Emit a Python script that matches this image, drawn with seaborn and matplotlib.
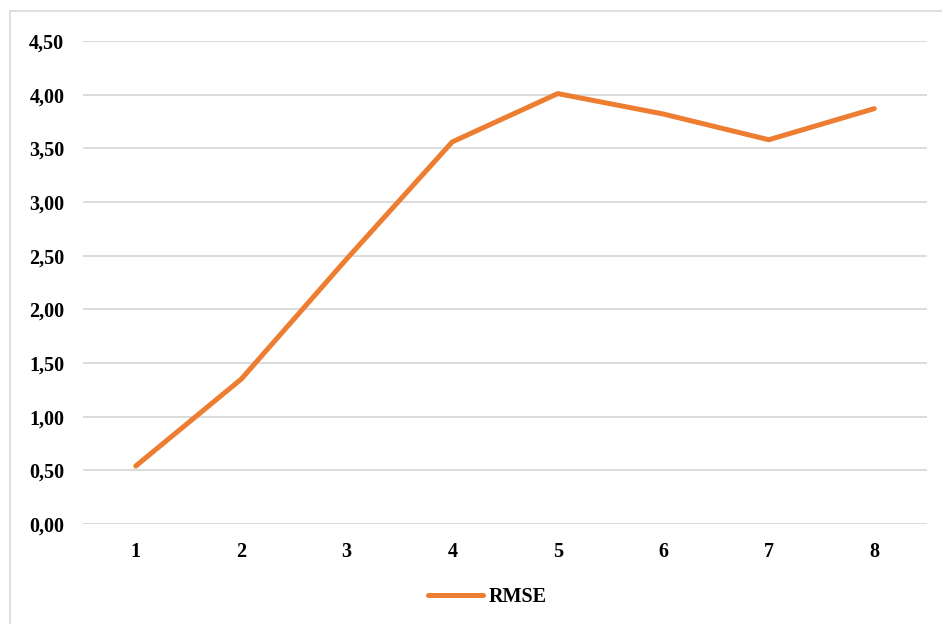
import numpy as np
import pandas as pd
import seaborn as sns
import matplotlib.pyplot as plt
from matplotlib.patches import Rectangle

# data
steps = [1, 2, 3, 4, 5, 6, 7, 8]
rmse = [0.54, 1.35, 2.47, 3.56, 4.01, 3.82, 3.58, 3.87]
y_ticks = [0.0, 0.5, 1.0, 1.5, 2.0, 2.5, 3.0, 3.5, 4.0, 4.5]

df = pd.DataFrame({'step': steps, 'RMSE': rmse})

sns.set_style('white')
plt.rcParams['font.family'] = ['Liberation Serif', 'DejaVu Serif']
plt.rcParams['font.weight'] = 'bold'
plt.rcParams['text.color'] = 'black'
plt.rcParams['xtick.color'] = 'black'
plt.rcParams['ytick.color'] = 'black'

fig = plt.figure(figsize=(9.42, 6.24), dpi=100)
ax = fig.add_axes([83 / 942, 1 - 524 / 624, (927 - 83) / 942, (524 - 41) / 624])

sns.lineplot(data=df, x='step', y='RMSE', ax=ax, color='#ED7D31', linewidth=3.6,
             solid_capstyle='round', solid_joinstyle='round', label='RMSE', legend=False)

ax.set_xlim(0.5, 8.5)
ax.set_ylim(0, 4.5)
ax.set_xticks(steps)
ax.set_xticklabels([str(s) for s in steps], fontsize=14.5, fontweight='bold', color='black')
ax.set_yticks(y_ticks)
ax.set_yticklabels([f'{v:.2f}'.replace('.', ',') for v in y_ticks], fontsize=14.5,
                   fontweight='bold', color='black')
ax.tick_params(axis='y', length=0, pad=13.5)
ax.tick_params(axis='x', length=0, pad=13)
ax.set_xlabel('')
ax.set_ylabel('')
ax.grid(axis='y', color='#D9D9D9', linewidth=1.3)
ax.set_axisbelow(True)
for s in ax.spines.values():
    s.set_visible(False)

# legend below the plot
handles, labels = ax.get_legend_handles_labels()
fig.legend(handles, labels, loc='center', bbox_to_anchor=(487 / 942, 1 - 597 / 624),
           frameon=False, handlelength=2.75, handletextpad=0.25,
           prop={'weight': 'bold', 'size': 14.5}, labelcolor='black')

# outer chart border
fig.patches.append(Rectangle((10 / 942, -0.1), 1.2, 1 - 11 / 624 + 0.1, transform=fig.transFigure,
                             fill=False, edgecolor='#D9D9D9', linewidth=1.2))

fig.savefig('out.png', dpi=100)
